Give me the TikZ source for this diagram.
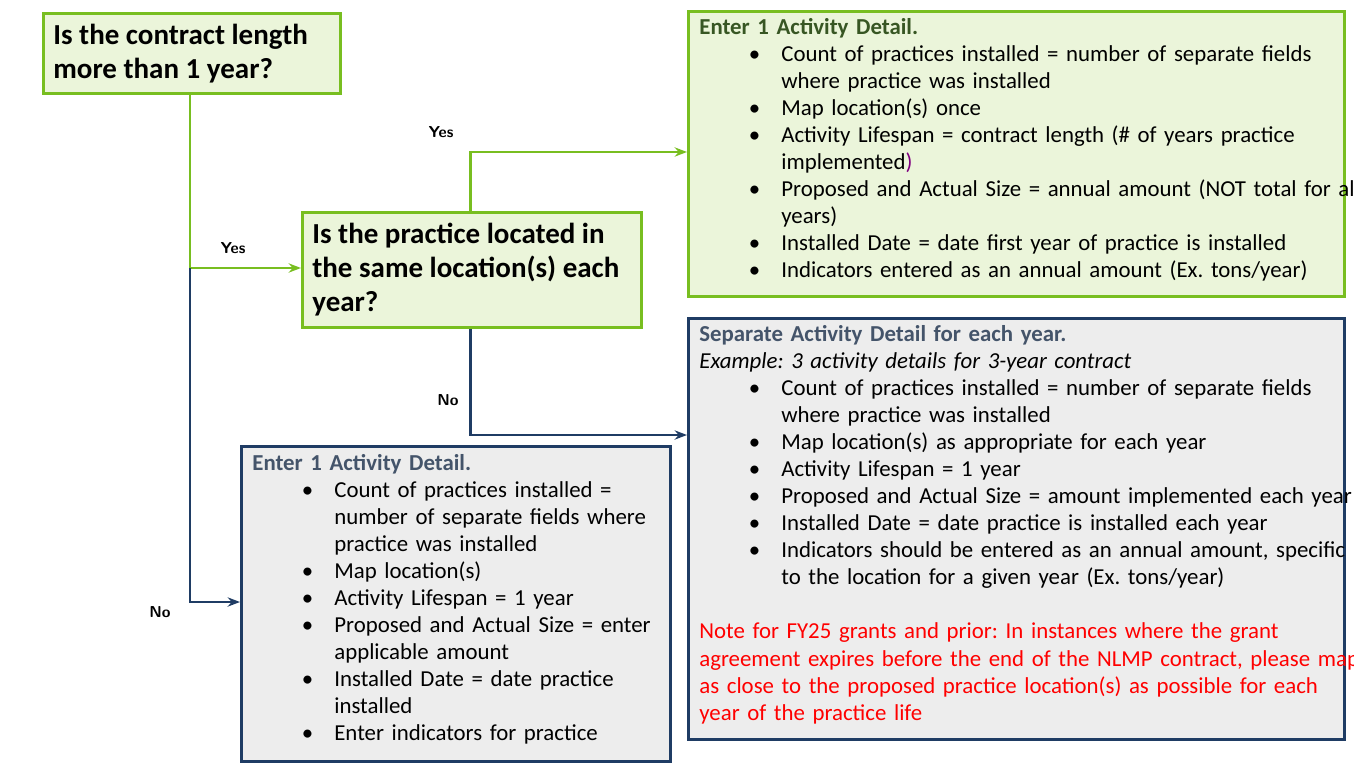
\documentclass[tikz,border=0pt]{standalone}
\usepackage{fontspec}
\setmainfont{Carlito}
\usepackage{enumitem}
\usetikzlibrary{arrows.meta,positioning}
\definecolor{grn}{HTML}{78BE20}
\definecolor{grnfill}{HTML}{EBF5DA}
\definecolor{navy}{HTML}{1F3C64}
\definecolor{gryfill}{HTML}{EDEDED}
\definecolor{dkgrn}{HTML}{375623}
\definecolor{slate}{HTML}{44546A}
\newcommand{\boxlist}[1]{\begin{itemize}[leftmargin=1.64cm,labelsep=0.42cm,itemsep=0pt,topsep=0pt,parsep=0pt]#1\end{itemize}}
\frenchspacing
\begin{document}
\begin{tikzpicture}[x=0.02cm,y=-0.02cm,
    gbox/.style={draw=grn,fill=grnfill,line width=1.7pt,inner sep=0pt},
    bbox/.style={draw=navy,fill=gryfill,line width=1.7pt,inner sep=0pt},
    qtext/.style={anchor=north west,inner sep=0pt,align=left,font=\fontsize{16.5}{19.4}\selectfont\bfseries},
    btext/.style={anchor=north west,inner sep=0pt,text width=14cm,align=left,font=\fontsize{13}{15.4}\selectfont},
    glink/.style={draw=grn,line width=1.7pt,-{Stealth[length=7pt]}},
    blink/.style={draw=navy,line width=1.7pt,-{Stealth[length=7pt]}},
    lab/.style={font=\small\bfseries\sffamily}]
\path[use as bounding box] (0,0) rectangle (1354,763);
% questions
\node[gbox,minimum width=5.94cm,minimum height=1.6cm,anchor=north west] (q1) at (42,12) {};
\node[qtext] (q1t) at (53,24) {Is the contract length\\more than 1 year?};
\node[gbox,minimum width=6.78cm,minimum height=2.3cm,anchor=north west] (q2) at (301,211) {};
\node[qtext] (q2t) at (312,223) {Is the practice located in\\the same location(s) each\\year?};
% answer boxes
\node[gbox,minimum width=13.12cm,minimum height=5.7cm,anchor=north west] (same) at (687,10) {};
\node[btext] (samet) at (699,18) {\textcolor{dkgrn}{\textbf{Enter 1 Activity Detail.}}
\boxlist{
\item Count of practices installed = number of separate fields\\where practice was installed
\item Map location(s) once
\item Activity Lifespan = contract length (\# of years practice\\implemented\textcolor{violet}{)}
\item Proposed and Actual Size = annual amount (NOT total for all\\years)
\item Installed Date = date first year of practice is installed
\item Indicators entered as an annual amount (Ex. tons/year)}};
\node[bbox,minimum width=13.12cm,minimum height=8.42cm,anchor=north west] (each) at (687,317) {};
\node[btext] (eacht) at (699,325) {\textcolor{slate}{\textbf{Separate Activity Detail for each year.}}\\
\textit{Example: 3 activity details for 3-year contract}
\boxlist{
\item Count of practices installed = number of separate fields\\where practice was installed
\item Map location(s) as appropriate for each year
\item Activity Lifespan = 1 year
\item Proposed and Actual Size = amount implemented each year
\item Installed Date = date practice is installed each year
\item Indicators should be entered as an annual amount, specific\\to the location for a given year (Ex. tons/year)}
\vspace{0.54cm}
\textcolor{red}{Note for FY25 grants and prior: In instances where the grant\\agreement expires before the end of the NLMP contract, please map\\as close to the proposed practice location(s) as possible for each\\year of the practice life}};
\node[bbox,minimum width=8.58cm,minimum height=6.3cm,anchor=north west] (one) at (240,445) {};
\node[btext,text width=9cm] (onet) at (252,454) {\textcolor{slate}{\textbf{Enter 1 Activity Detail.}}
\boxlist{
\item Count of practices installed =\\number of separate fields where\\practice was installed
\item Map location(s)
\item Activity Lifespan = 1 year
\item Proposed and Actual Size = enter\\applicable amount
\item Installed Date = date practice\\installed
\item Enter indicators for practice}};
% connectors
\coordinate (split) at (190,268);
\draw[draw=grn,line width=1.7pt] (q1.south -| split) -- (split);
\draw[glink] (split) -- (q2.west |- split);
\draw[blink] (split) -- (190,602) -- (one.west |- 0,602);
\draw[glink] (q2.north -| 470,0) -- (470,152) -- (same.west |- 0,152);
\draw[blink] (q2.south -| 470,0) -- (470,435) -- (each.west |- 0,435);
% labels
\node[lab] (yes1) at (233,248) {Yes};
\node[lab] (no1) at (160,612) {No};
\node[lab] (yes2) at (441,132) {Yes};
\node[lab] (no2) at (448,400) {No};
\end{tikzpicture}
\end{document}
